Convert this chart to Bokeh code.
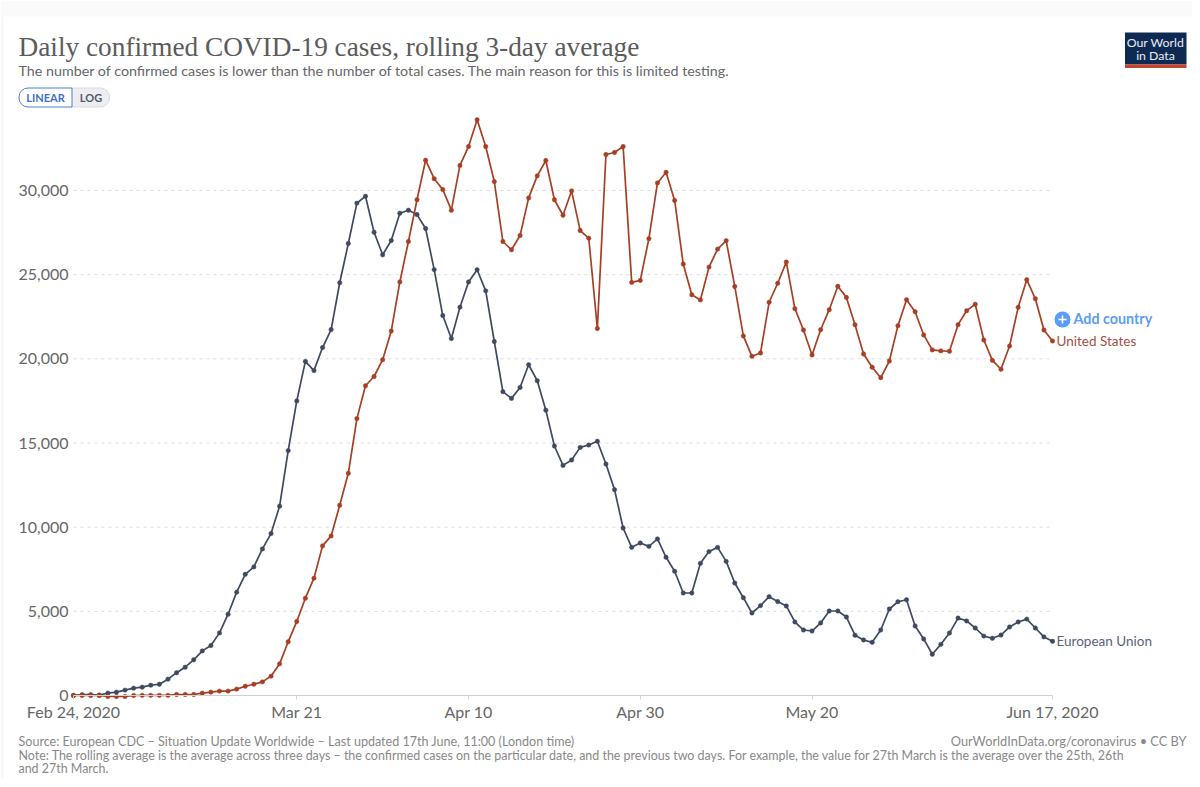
import pandas as pd
from bokeh.plotting import figure
from bokeh.embed import file_html
from bokeh.resources import INLINE
from bokeh.models import Range1d, FixedTicker, NumeralTickFormatter, Label, BoxAnnotation, ColumnDataSource
from bokeh.core.properties import value

first_day = "2020-02-24"
last_day = "2020-06-17"

european_union = [
    0, 50, 50, 30, 140, 200, 320, 435, 495, 615, 670, 970, 1350, 1680, 2120, 2650, 2970, 3720, 4830, 6140,
    7200, 7640, 8710, 9620, 11250, 14550, 17500, 19850, 19300, 20670, 21740, 24520, 26850, 29250, 29660,
    27520, 26180, 27030, 28650, 28830, 28570, 27740, 25300, 22570, 21210, 23070, 24570, 25290, 24040, 21030,
    18050, 17650, 18300, 19650, 18700, 16950, 14820, 13670, 13990, 14740, 14880, 15100, 13750, 12230, 9950,
    8800, 9060, 8860, 9300, 8210, 7380, 6090, 6090, 7850, 8550, 8800, 7970, 6680, 5810, 4900, 5340, 5870,
    5580, 5320, 4370, 3890, 3830, 4310, 5020, 5020, 4660, 3580, 3300, 3160, 3890, 5140, 5570, 5690, 4130,
    3360, 2450, 3040, 3710, 4600, 4430, 4010, 3530, 3400, 3590, 4070, 4370, 4540, 4010, 3480, 3220,
]
united_states = [
    5, 5, 0, 0, -60, -60, -60, 0, 10, 10, 10, 10, 60, 60, 60, 140, 200, 260, 260, 380,
    550, 670, 810, 1150, 1880, 3190, 4400, 5780, 6970, 8890, 9480, 11300, 13200, 16450, 18400,
    18950, 19950, 21650, 24570, 26970, 29450, 31800, 30700, 30060, 28830, 31490, 32610, 34200, 32610, 30530,
    26970, 26480, 27330, 29560, 30870, 31780, 29450, 28530, 29980, 27620, 27170, 21800, 32140, 32260, 32610,
    24540, 24660, 27140, 30450, 31080, 29410, 25630, 23810, 23500, 25450, 26520, 27020, 24300, 21360, 20150,
    20350, 23360, 24490, 25750, 22980, 21710, 20230, 21730, 22920, 24310, 23650, 22030, 20290, 19500, 18880,
    19870, 21970, 23510, 22800, 21420, 20530, 20470, 20450, 22030, 22860, 23240, 21120, 19910, 19380, 20760,
    23060, 24700, 23570, 21710, 21060,
]
y_ticks = [0, 5000, 10000, 15000, 20000, 25000, 30000]
x_tick_dates = ["2020-02-24", "2020-03-21", "2020-04-10", "2020-04-30", "2020-05-20", "2020-06-17"]
x_tick_labels = ["Feb 24, 2020", "Mar 21", "Apr 10", "Apr 30", "May 20", "Jun 17, 2020"]

TITLE = "Daily confirmed COVID-19 cases, rolling 3-day average"
SUBTITLE = "The number of confirmed cases is lower than the number of total cases. The main reason for this is limited testing."
SOURCE = "Source: European CDC \u2013 Situation Update Worldwide \u2013 Last updated 17th June, 11:00 (London time)"
NOTE_1 = ("Note: The rolling average is the average across three days \u2013 the confirmed cases on the particular date, "
          "and the previous two days. For example, the value for 27th March is the average over the 25th, 26th")
NOTE_2 = "and 27th March."
CREDIT = "OurWorldInData.org/coronavirus \u2022 CC BY"

RED = "#a63f24"
NAVY = "#3e4a60"
W, H = 1192, 779
DAY = 86400000.0
dates = pd.date_range(first_day, last_day)
t0 = dates[0].timestamp() * 1000
to_ms = lambda d: pd.Timestamp(d).timestamp() * 1000

p = figure(width=W, height=H, x_axis_type="datetime", output_backend="svg", toolbar_location=None,
           min_border=0, min_border_left=0, min_border_right=0, min_border_top=0, min_border_bottom=0,
           background_fill_color="white", border_fill_color="white", outline_line_color=None,
           x_range=Range1d(t0 - 8.5 * DAY, t0 + 130.3 * DAY), y_range=Range1d(-4990, 41287))
p.grid.visible = False

# dashed gridlines, ending at the last date
grid_ticks = y_ticks[1:]
p.segment(x0=[dates[0]] * len(grid_ticks), x1=[dates[-1]] * len(grid_ticks), y0=grid_ticks, y1=grid_ticks,
          line_color="#dddddd", line_width=1, line_dash="3 4")

# axes
xa = p.xaxis[0]
xa.fixed_location = 0
xa.bounds = (t0, to_ms(last_day))
xa.ticker = FixedTicker(ticks=[to_ms(d) for d in x_tick_dates])
xa.minor_tick_line_color = None
xa.major_label_overrides = {to_ms(d): l for d, l in zip(x_tick_dates, x_tick_labels)}
xa.axis_line_color = "#d0d0d0"
xa.major_tick_line_color = "#d0d0d0"
xa.major_tick_in = 0
xa.major_tick_out = 4
xa.major_label_standoff = 2
xa.major_label_text_font = "Lato"
xa.major_label_text_font_size = "16px"
xa.major_label_text_color = "#666666"

ya = p.yaxis[0]
ya.fixed_location = t0
ya.ticker = FixedTicker(ticks=y_ticks)
ya.formatter = NumeralTickFormatter(format="0,0")
ya.axis_line_color = None
ya.major_tick_line_color = None
ya.minor_tick_line_color = None
ya.major_tick_in = 0
ya.major_tick_out = 0
ya.major_label_standoff = 5
ya.major_label_text_font = "Lato"
ya.major_label_text_font_size = "16px"
ya.major_label_text_color = "#666666"

# series
for vals, col in ((european_union, NAVY), (united_states, RED)):
    src = ColumnDataSource(dict(x=dates, y=vals))
    p.line("x", "y", source=src, line_color=col, line_width=1.7)
    p.scatter("x", "y", source=src, size=4.4, fill_color=col, line_color=col, line_width=0.5)

# direct labels at the last points
p.text(x=[dates[-1]], y=[united_states[-1]], text=["United States"], x_offset=4, text_baseline="middle",
       text_font=value("Lato"), text_font_size="13.5px", text_color="#a5503f")
p.text(x=[dates[-1]], y=[european_union[-1]], text=["European Union"], x_offset=4, text_baseline="middle",
       text_font=value("Lato"), text_font_size="13.5px", text_color="#59637a")


def label(text, x, y, size, color, font="Lato", align="left", style="normal"):
    p.add_layout(Label(x=x, y=y, x_units="canvas", y_units="canvas", text=text, text_font=font,
                       text_font_size=size, text_color=color, text_align=align, text_baseline="middle",
                       text_font_style=style, level="overlay"))


def box(x0, x1, y0, y1, fill, line=None, lw=1, radius=0):
    p.add_layout(BoxAnnotation(left=x0, right=x1, top=y0, bottom=y1,
                               left_units="canvas", right_units="canvas", top_units="canvas", bottom_units="canvas",
                               fill_color=fill, fill_alpha=1, line_color=line, line_width=lw,
                               line_alpha=1 if line else 0, border_radius=radius, level="annotation"))


# page band, title block
box(0, W, 0, 16, "#fafafa")
box(0, 3, 16, H, "#f8f8f8")
label(TITLE, 18, 46, "27.3px", "#5b5b5b", font="Liberation Serif")
label(SUBTITLE, 18, 70, "14.3px", "#666666")

# scale toggle
box(71, 109, 87.5, 106.5, "#eeeef0", "#dcdcdc", 1, (0, 9, 9, 0))
box(18.5, 71.5, 87.5, 106.5, "#ffffff", "#4a7fd6", 1, (9, 0, 0, 9))
label("LINEAR", 45, 97, "11px", "#3f6fc8", align="center", style="bold")
label("LOG", 90.5, 97, "11px", "#4c5a6e", align="center", style="bold")

# logo
box(1124.5, 1186, 32, 64, "#0f2a52")
box(1124.5, 1186, 64, 67.5, "#c8432e")
label("Our World", 1155, 41.5, "12.3px", "#e8edf5", align="center")
label("in Data", 1155, 55, "12.3px", "#e8edf5", align="center")

# add country
box(1054, 1070, 311, 327, "#5b9cf6", None, 1, 8)
box(1058, 1066, 318.2, 319.8, "#ffffff")
box(1061.2, 1062.8, 315, 323, "#ffffff")
label("Add country", 1073, 318, "14.3px", "#5b9cf6", style="bold")

# footer
label(SOURCE, 18, 740.5, "12.55px", "#888888")
label(CREDIT, 1186, 740.5, "12.8px", "#888888", align="right")
label(NOTE_1, 18, 754.5, "12.44px", "#888888")
label(NOTE_2, 18, 768, "12.44px", "#888888")

open("out.html", "w").write(file_html(p, INLINE))
